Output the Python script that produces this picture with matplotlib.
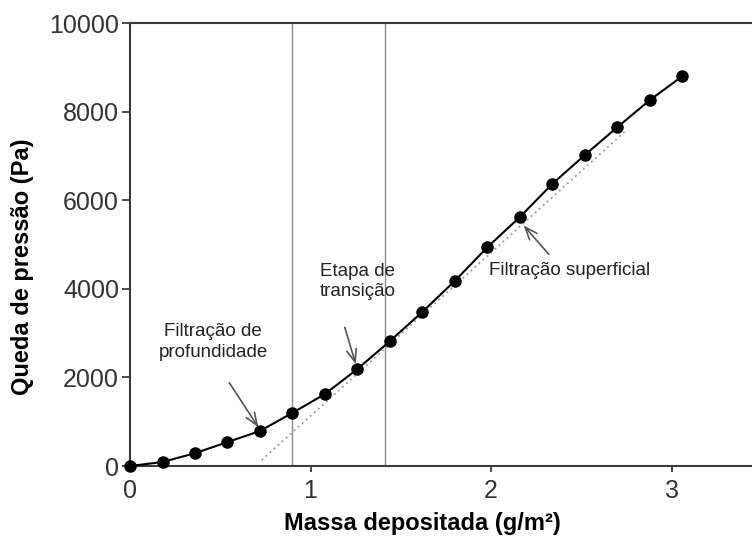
import numpy as np
import matplotlib.pyplot as plt

plt.rcParams['font.family'] = ['Liberation Sans', 'DejaVu Sans']

# massa depositada (g/m2) e queda de pressao (Pa)
massa = [0.0, 0.18, 0.36, 0.54, 0.72, 0.90, 1.08, 1.26, 1.44, 1.62,
         1.80, 1.98, 2.16, 2.34, 2.52, 2.70, 2.88, 3.06]
queda = [0, 90, 290, 540, 790, 1200, 1625, 2190, 2820, 3480,
         4180, 4940, 5620, 6370, 7020, 7650, 8260, 8800]

# reta da filtracao superficial (extrapolada)
reta_x = [0.73, 2.75]
reta_y = [135, 7580]

# limites entre as etapas
limites = [0.90, 1.41]

fig = plt.figure(figsize=(7.52, 5.38), dpi=100)
ax = fig.add_axes([0.1729, 0.1338, 0.8271, 0.8234])

for x in limites:
    ax.axvline(x, color='#8a8a8a', lw=1.0, zorder=1)

ax.plot(reta_x, reta_y, ls=(0, (1, 2)), color='#9a9a9a', lw=1.3, zorder=2)
ax.plot(massa, queda, color='black', lw=1.5, marker='o', ms=8,
        clip_on=False, zorder=3)

ax.set_xlim(0, 3.446)
ax.set_ylim(0, 10000)
ax.set_xticks([0, 1, 2, 3])
ax.set_yticks([0, 2000, 4000, 6000, 8000, 10000])

for s in ['left', 'top', 'bottom']:
    ax.spines[s].set_color('#3a3a3a')
    ax.spines[s].set_linewidth(1.5)
ax.spines['right'].set_visible(False)
ax.tick_params(axis='both', colors='#3a3a3a', labelcolor='#333333',
               labelsize=18, width=1.3, length=6)
ax.tick_params(axis='y', pad=2)
ax.tick_params(axis='x', length=4, pad=5)

ax.set_xlabel('Massa depositada (g/m²)', fontsize=17, fontweight='bold')
ax.xaxis.set_label_coords(0.47, -0.103)
ax.set_ylabel('Queda de pressão (Pa)', fontsize=17, fontweight='bold')
ax.yaxis.set_label_coords(-0.155, 0.45)

seta = dict(arrowstyle='->,head_length=0.9,head_width=0.35',
            color='#555555', lw=1.2, shrinkA=0, shrinkB=2)
ax.annotate('Filtração de\nprofundidade', xy=(0.72, 790), xytext=(0.46, 2800),
            fontsize=13.5, color='#222222', ha='center', va='center',
            linespacing=1.25)
ax.annotate('', xy=(0.72, 820), xytext=(0.55, 1880), arrowprops=seta)
ax.annotate('Etapa de\ntransição', xy=(1.26, 2190), xytext=(1.26, 4160),
            fontsize=13.5, color='#222222', ha='center', va='center',
            linespacing=1.25)
ax.annotate('', xy=(1.255, 2240), xytext=(1.19, 3130), arrowprops=seta)
ax.annotate('Filtração superficial', xy=(2.16, 5620), xytext=(1.99, 4410),
            fontsize=13.5, color='#222222', ha='left', va='center')
ax.annotate('', xy=(2.17, 5480), xytext=(2.32, 4780), arrowprops=seta)

fig.savefig('out.png', dpi=100)
